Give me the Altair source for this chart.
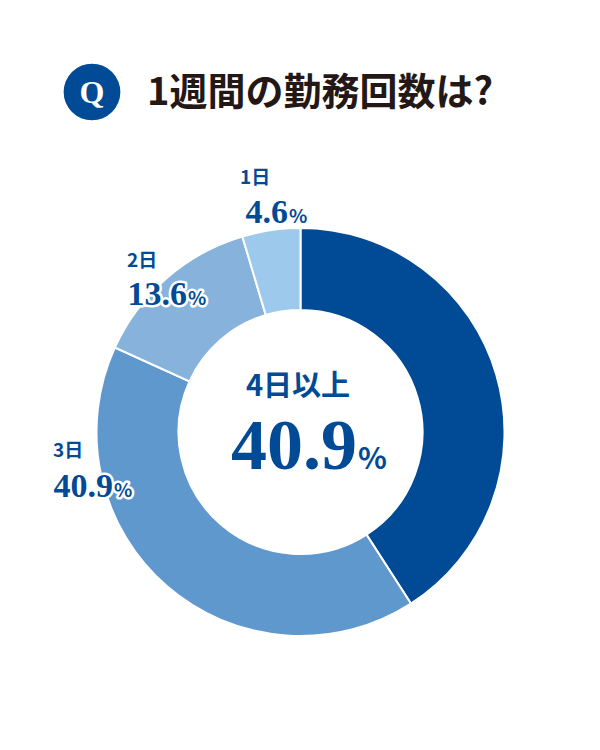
import altair as alt
import pandas as pd

# ---- data ----
categories = ["4日以上", "3日", "2日", "1日"]
values = [40.9, 40.9, 13.6, 4.6]
slice_colors = ["#004A96", "#5F98CD", "#86B2DB", "#9DC9EC"]
title_text = "1週間の勤務回数は?"
q_text = "Q"

df = pd.DataFrame({"cat": categories, "val": values, "order": list(range(len(categories)))})

BLUE = "#004A96"
SERIF = "Liberation Serif"
SANS = "Noto Sans CJK JP"

CX, CY = 292.5, 424

donut = alt.Chart(df).mark_arc(radius=204, radius2=122, stroke="white", strokeWidth=2).encode(
    theta=alt.Theta("val:Q", stack=True),
    order=alt.Order("order:Q"),
    color=alt.Color("cat:N", scale=alt.Scale(domain=categories, range=slice_colors), legend=None),
    x=alt.value(CX),
    y=alt.value(CY),
)


def txt(s, x, y, size, font, align="left", color=BLUE, halo=False, weight="bold"):
    d = pd.DataFrame({"t": [s]})
    layers = []
    if halo:
        layers.append(
            alt.Chart(d).mark_text(
                font=font, fontSize=size, fontWeight=weight, align=align, baseline="alphabetic",
                color="white", stroke="white", strokeWidth=5, strokeJoin="round",
            ).encode(text="t:N", x=alt.value(x), y=alt.value(y))
        )
    layers.append(
        alt.Chart(d).mark_text(
            font=font, fontSize=size, fontWeight=weight, align=align, baseline="alphabetic", color=color,
        ).encode(text="t:N", x=alt.value(x), y=alt.value(y))
    )
    return layers


def fmt(v):
    return f"{v:.1f}"


layers = [donut]

# Q badge
qdf = pd.DataFrame({"t": [q_text]})
layers.append(
    alt.Chart(qdf).mark_point(filled=True, shape="circle", size=3217, color=BLUE, opacity=1).encode(
        x=alt.value(84), y=alt.value(84)
    )
)
layers += txt(q_text, 84, 95, 32, SERIF, align="center", color="white")
layers += txt(title_text, 139, 97, 38, SANS, color="#231815", weight="bold")

# label 1日
layers += txt(categories[3], 232, 176, 19, SANS)
layers += txt(fmt(values[3]), 280, 215, 34, SERIF, align="right", halo=True)
layers += txt("%", 281, 215, 19, SANS, halo=True)
# label 2日
layers += txt(categories[2], 119, 259, 19, SANS)
layers += txt(fmt(values[2]), 179, 297, 34, SERIF, align="right", halo=True)
layers += txt("%", 180, 297, 19, SANS, halo=True)
# label 3日
layers += txt(categories[1], 45, 449, 19, SANS)
layers += txt(fmt(values[1]), 105, 489, 34, SERIF, align="right", halo=True)
layers += txt("%", 106, 489, 19, SANS, halo=True)
# center
layers += txt(categories[0], 290, 388, 29, SANS, align="center")
layers += txt(fmt(values[0]), 349, 461, 72, SERIF, align="right")
layers += txt("%", 350, 461, 30, SANS)

chart = alt.layer(*layers).properties(
    width=584, height=734, padding=0, background="white"
).configure_view(stroke=None)

chart.save("out.html", embed_options={"renderer": "svg", "actions": False})
